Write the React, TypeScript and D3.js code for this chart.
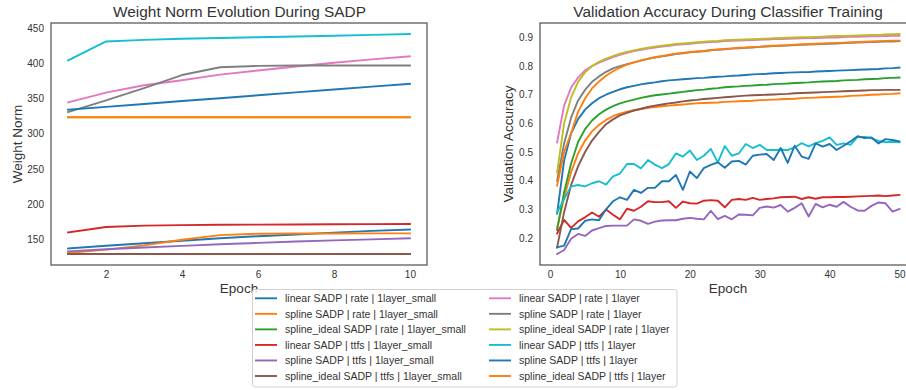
import { useEffect, useRef } from "react";
import * as d3 from "d3";

// epochs
const normEpochs = [1, 2, 3, 4, 5, 6, 7, 8, 9, 10];
const accEpochs = [
  1, 2, 3, 4, 5, 6, 7, 8, 9, 10, 11, 12, 13, 14, 15, 16, 17, 18, 19, 20,
  21, 22, 23, 24, 25, 26, 27, 28, 29, 30, 31, 32, 33, 34, 35, 36, 37, 38, 39, 40,
  41, 42, 43, 44, 45, 46, 47, 48, 49, 50,
];

const seriesNames = [
  "linear SADP | rate | 1layer_small",
  "spline SADP | rate | 1layer_small",
  "spline_ideal SADP | rate | 1layer_small",
  "linear SADP | ttfs | 1layer_small",
  "spline SADP | ttfs | 1layer_small",
  "spline_ideal SADP | ttfs | 1layer_small",
  "linear SADP | rate | 1layer",
  "spline SADP | rate | 1layer",
  "spline_ideal SADP | rate | 1layer",
  "linear SADP | ttfs | 1layer",
  "spline SADP | ttfs | 1layer",
  "spline_ideal SADP | ttfs | 1layer",
];

const seriesColors = [
  "#1f77b4", "#ff7f0e", "#2ca02c", "#d62728", "#9467bd", "#8c564b",
  "#e377c2", "#7f7f7f", "#bcbd22", "#17becf", "#1f77b4", "#ff7f0e",
];

// weight norm per epoch (left panel)
const normLinRateSmall = [137, 141, 144.5, 148, 151.5, 154.5, 157, 159.5, 162, 164];
const normSplRateSmall = [130.6, 135.4, 141.5, 149.5, 156, 158, 158.3, 158.4, 158.5, 158.5];
const normIdlRateSmall = [129.2, 129.2, 129.2, 129.2, 129.2, 129.2, 129.2, 129.2, 129.2, 129.2];
const normLinTtfsSmall = [160, 167.5, 169.5, 170.3, 170.7, 171, 171.2, 171.4, 171.6, 171.8];
const normSplTtfsSmall = [133, 136, 138.5, 140.8, 143, 145, 147, 148.5, 150, 151.5];
const normIdlTtfsSmall = [129.2, 129.2, 129.2, 129.2, 129.2, 129.2, 129.2, 129.2, 129.2, 129.2];
const normLinRate = [344.6, 358.5, 369, 376, 384, 390, 395.7, 401, 405.7, 410];
const normSplRate = [330.8, 347.4, 365, 383.5, 394.5, 396.5, 397, 397, 397, 397];
const normIdlRate = [323.5, 323.5, 323.5, 323.5, 323.5, 323.5, 323.5, 323.5, 323.5, 323.5];
const normLinTtfs = [404.3, 431.2, 433.5, 435, 436.2, 437.2, 438.3, 439.4, 440.5, 441.8];
const normSplTtfs = [334.2, 338.3, 342.4, 346.5, 350.6, 354.7, 358.8, 362.9, 367, 371.1];
const normIdlTtfs = [323.5, 323.5, 323.5, 323.5, 323.5, 323.5, 323.5, 323.5, 323.5, 323.5];

// validation accuracy per epoch (right panel)
const accLinRateSmall = [
  0.285, 0.47, 0.565, 0.615, 0.648, 0.67, 0.688, 0.7, 0.71, 0.719,
  0.726, 0.731, 0.736, 0.74, 0.743, 0.747, 0.75, 0.752, 0.754, 0.756,
  0.758, 0.759, 0.761, 0.763, 0.764, 0.766, 0.767, 0.769, 0.771, 0.772,
  0.773, 0.775, 0.776, 0.777, 0.778, 0.779, 0.779, 0.781, 0.782, 0.783,
  0.784, 0.785, 0.786, 0.787, 0.788, 0.789, 0.79, 0.792, 0.793, 0.795,
];
const accSplRateSmall = [
  0.235, 0.34, 0.43, 0.495, 0.54, 0.572, 0.595, 0.612, 0.625, 0.634,
  0.641, 0.646, 0.65, 0.654, 0.657, 0.66, 0.662, 0.664, 0.666, 0.668,
  0.67, 0.671, 0.672, 0.673, 0.675, 0.676, 0.677, 0.678, 0.679, 0.681,
  0.682, 0.683, 0.684, 0.685, 0.686, 0.688, 0.689, 0.69, 0.691, 0.692,
  0.693, 0.694, 0.696, 0.697, 0.698, 0.7, 0.701, 0.702, 0.703, 0.705,
];
const accIdlRateSmall = [
  0.228, 0.36, 0.46, 0.535, 0.58, 0.61, 0.632, 0.648, 0.66, 0.67,
  0.677, 0.683, 0.689, 0.694, 0.698, 0.701, 0.704, 0.707, 0.71, 0.713,
  0.716, 0.718, 0.721, 0.723, 0.726, 0.728, 0.729, 0.731, 0.732, 0.734,
  0.735, 0.737, 0.738, 0.739, 0.741, 0.742, 0.743, 0.745, 0.746, 0.747,
  0.748, 0.75, 0.751, 0.752, 0.754, 0.755, 0.756, 0.758, 0.759, 0.76,
];
const accLinTtfsSmall = [
  0.216, 0.263, 0.235, 0.258, 0.272, 0.289, 0.274, 0.299, 0.281, 0.265,
  0.302, 0.295, 0.309, 0.328, 0.325, 0.325, 0.328, 0.305, 0.327, 0.321,
  0.32, 0.33, 0.332, 0.33, 0.307, 0.333, 0.336, 0.333, 0.34, 0.333,
  0.336, 0.338, 0.342, 0.343, 0.344, 0.336, 0.342, 0.337, 0.342, 0.342,
  0.343, 0.343, 0.344, 0.345, 0.346, 0.347, 0.348, 0.346, 0.348, 0.35,
];
const accSplTtfsSmall = [
  0.144, 0.158, 0.197, 0.214, 0.207, 0.226, 0.234, 0.242, 0.243, 0.243,
  0.243, 0.265, 0.26, 0.249, 0.257, 0.261, 0.262, 0.262, 0.267, 0.27,
  0.267, 0.265, 0.295, 0.266, 0.277, 0.265, 0.282, 0.281, 0.279, 0.305,
  0.31, 0.306, 0.315, 0.292, 0.305, 0.321, 0.275, 0.319, 0.307, 0.316,
  0.309, 0.326, 0.309, 0.296, 0.295, 0.312, 0.324, 0.321, 0.292, 0.301,
];
const accIdlTtfsSmall = [
  0.167, 0.29, 0.385, 0.45, 0.5, 0.54, 0.57, 0.597, 0.614, 0.628,
  0.637, 0.645, 0.651, 0.657, 0.662, 0.666, 0.67, 0.673, 0.677, 0.68,
  0.682, 0.685, 0.687, 0.689, 0.691, 0.693, 0.695, 0.697, 0.698, 0.699,
  0.7, 0.701, 0.702, 0.703, 0.705, 0.706, 0.707, 0.708, 0.709, 0.71,
  0.711, 0.712, 0.713, 0.714, 0.715, 0.716, 0.716, 0.717, 0.717, 0.717,
];
const accLinRate = [
  0.534, 0.662, 0.725, 0.76, 0.785, 0.8, 0.812, 0.822, 0.831, 0.839,
  0.846, 0.852, 0.857, 0.861, 0.865, 0.868, 0.871, 0.874, 0.876, 0.878,
  0.88, 0.882, 0.884, 0.885, 0.887, 0.888, 0.889, 0.89, 0.891, 0.892,
  0.893, 0.894, 0.894, 0.895, 0.896, 0.897, 0.898, 0.898, 0.899, 0.9,
  0.9, 0.901, 0.902, 0.902, 0.903, 0.904, 0.904, 0.905, 0.906, 0.906,
];
const accSplRate = [
  0.4, 0.53, 0.62, 0.68, 0.717, 0.745, 0.764, 0.78, 0.792, 0.8,
  0.807, 0.813, 0.819, 0.825, 0.83, 0.834, 0.838, 0.842, 0.845, 0.848,
  0.85, 0.852, 0.855, 0.857, 0.859, 0.861, 0.862, 0.864, 0.865, 0.867,
  0.868, 0.87, 0.871, 0.872, 0.873, 0.874, 0.875, 0.876, 0.877, 0.878,
  0.879, 0.88, 0.881, 0.882, 0.883, 0.884, 0.885, 0.886, 0.886, 0.887,
];
const accIdlRate = [
  0.429, 0.6, 0.69, 0.745, 0.778, 0.8, 0.815, 0.826, 0.835, 0.843,
  0.849, 0.855, 0.86, 0.864, 0.868, 0.871, 0.874, 0.877, 0.879, 0.881,
  0.883, 0.885, 0.887, 0.888, 0.89, 0.891, 0.892, 0.893, 0.894, 0.895,
  0.896, 0.897, 0.898, 0.899, 0.9, 0.901, 0.901, 0.902, 0.903, 0.904,
  0.905, 0.905, 0.906, 0.907, 0.908, 0.909, 0.909, 0.91, 0.911, 0.912,
];
const accLinTtfs = [
  0.289, 0.336, 0.38, 0.385, 0.38, 0.391, 0.398, 0.386, 0.415, 0.425,
  0.458, 0.458, 0.443, 0.472, 0.456, 0.444, 0.458, 0.495, 0.484, 0.505,
  0.472, 0.487, 0.511, 0.464, 0.521, 0.487, 0.495, 0.528, 0.514, 0.525,
  0.507, 0.507, 0.508, 0.507, 0.516, 0.531, 0.52, 0.531, 0.539, 0.551,
  0.525, 0.53, 0.525, 0.553, 0.553, 0.548, 0.539, 0.534, 0.536, 0.534,
];
const accSplTtfs = [
  0.167, 0.173, 0.231, 0.233, 0.26, 0.265, 0.262, 0.3, 0.328, 0.342,
  0.333, 0.368, 0.357, 0.375, 0.375, 0.398, 0.398, 0.42, 0.368, 0.432,
  0.409, 0.444, 0.455, 0.464, 0.445, 0.467, 0.469, 0.456, 0.487, 0.491,
  0.493, 0.472, 0.514, 0.462, 0.522, 0.484, 0.476, 0.53, 0.519, 0.528,
  0.507, 0.522, 0.537, 0.555, 0.549, 0.551, 0.53, 0.545, 0.542, 0.537,
];
const accIdlTtfs = [
  0.383, 0.5, 0.565, 0.64, 0.687, 0.722, 0.746, 0.766, 0.782, 0.795,
  0.805, 0.813, 0.82, 0.826, 0.831, 0.835, 0.84, 0.843, 0.846, 0.849,
  0.851, 0.853, 0.856, 0.858, 0.86, 0.862, 0.864, 0.865, 0.867, 0.868,
  0.87, 0.871, 0.872, 0.873, 0.875, 0.876, 0.877, 0.878, 0.879, 0.88,
  0.881, 0.882, 0.883, 0.884, 0.885, 0.886, 0.887, 0.888, 0.889, 0.889,
];

const normSeries = [
  normLinRateSmall, normSplRateSmall, normIdlRateSmall,
  normLinTtfsSmall, normSplTtfsSmall, normIdlTtfsSmall,
  normLinRate, normSplRate, normIdlRate,
  normLinTtfs, normSplTtfs, normIdlTtfs,
];
const accSeries = [
  accLinRateSmall, accSplRateSmall, accIdlRateSmall,
  accLinTtfsSmall, accSplTtfsSmall, accIdlTtfsSmall,
  accLinRate, accSplRate, accIdlRate,
  accLinTtfs, accSplTtfs, accIdlTtfs,
];

const normXTicks = [2, 4, 6, 8, 10];
const normYTicks = [150, 200, 250, 300, 350, 400, 450];
const accXTicks = [0, 10, 20, 30, 40, 50];
const accYTicks = [0.2, 0.3, 0.4, 0.5, 0.6, 0.7, 0.8, 0.9];

const W = 906;
const H = 390;
const FONT = "'Liberation Sans', Arial, sans-serif";
const TXT = "#333333";

// matplotlib style 5% padding
function padded(lo: number, hi: number) {
  const m = (hi - lo) * 0.05;
  return [lo - m, hi + m];
}

function drawPanel(svg: any, opts: any) {
  const { x0, x1, y0, y1, epochs, series, xTicks, yTicks, yFmt, title, ylabel, ylabelX } = opts;
  const allVals = series.flat();
  const x = d3.scaleLinear(padded(d3.min(epochs) as number, d3.max(epochs) as number), [x0, x1]);
  const y = d3.scaleLinear(padded(d3.min(allVals) as number, d3.max(allVals) as number), [y1, y0]);

  const clipId = "clip" + Math.round(x0);
  svg.append("clipPath").attr("id", clipId)
    .append("rect").attr("x", x0).attr("y", y0).attr("width", x1 - x0).attr("height", y1 - y0);

  const line = d3.line<number>()
    .x((d, i) => x(epochs[i]))
    .y((d) => y(d));

  const g = svg.append("g").attr("clip-path", `url(#${clipId})`);
  series.forEach((s: number[], i: number) => {
    g.append("path")
      .attr("d", line(s))
      .attr("fill", "none")
      .attr("stroke", seriesColors[i])
      .attr("stroke-width", 1.9)
      .attr("stroke-linejoin", "round")
      .attr("stroke-linecap", "square");
  });

  // frame
  svg.append("rect")
    .attr("x", x0).attr("y", y0)
    .attr("width", x1 - x0).attr("height", y1 - y0)
    .attr("fill", "none").attr("stroke", "#555").attr("stroke-width", 1.25);

  const xAxis = svg.append("g")
    .attr("transform", `translate(0,${y1})`)
    .call(d3.axisBottom(x).tickValues(xTicks).tickSize(0).tickPadding(6));
  xAxis.select(".domain").remove();
  xAxis.selectAll("text").attr("font-size", 10).attr("font-family", FONT).attr("fill", TXT);

  const yAxis = svg.append("g")
    .attr("transform", `translate(${x0},0)`)
    .call(d3.axisLeft(y).tickValues(yTicks).tickSize(0).tickPadding(7).tickFormat(yFmt));
  yAxis.select(".domain").remove();
  yAxis.selectAll("text").attr("font-size", 10).attr("font-family", FONT).attr("fill", TXT);

  svg.append("text")
    .attr("x", opts.titleCx)
    .attr("y", 17)
    .attr("text-anchor", "middle")
    .attr("font-family", FONT).attr("font-size", 15.4).attr("fill", TXT)
    .text(title);

  svg.append("text")
    .attr("x", opts.labelCx)
    .attr("y", 293)
    .attr("text-anchor", "middle")
    .attr("font-family", FONT).attr("font-size", 13.5).attr("fill", TXT)
    .text("Epoch");

  svg.append("text")
    .attr("transform", `translate(${ylabelX},${(y0 + y1) / 2}) rotate(-90)`)
    .attr("text-anchor", "middle")
    .attr("font-family", FONT).attr("font-size", 13.5).attr("fill", TXT)
    .text(ylabel);
}

function Charts() {
  const ref = useRef<SVGSVGElement>(null);

  useEffect(() => {
    const svg = d3.select(ref.current);
    svg.selectAll("*").remove();

    drawPanel(svg, {
      x0: 51, x1: 427, y0: 23, y1: 265,
      epochs: normEpochs, series: normSeries,
      xTicks: normXTicks, yTicks: normYTicks, yFmt: d3.format("d"),
      title: "Weight Norm Evolution During SADP", titleCx: 239.5,
      ylabel: "Weight Norm", ylabelX: 22, labelCx: 239,
    });

    drawPanel(svg, {
      x0: 540, x1: 916.6, y0: 23, y1: 265,
      epochs: accEpochs, series: accSeries,
      xTicks: accXTicks, yTicks: accYTicks, yFmt: d3.format(".1f"),
      title: "Validation Accuracy During Classifier Training", titleCx: 728,
      ylabel: "Validation Accuracy", ylabelX: 513, labelCx: 728,
    });

    // legend, two columns of six
    const lg = svg.append("g");
    lg.append("rect")
      .attr("x", 252.5).attr("y", 289.5)
      .attr("width", 424.5).attr("height", 97.5)
      .attr("rx", 2.5)
      .attr("fill", "white").attr("fill-opacity", 0.85)
      .attr("stroke", "#d0d0d0").attr("stroke-width", 1);

    const rowY = d3.scaleLinear([0, 5], [298.3, 376]);
    const colX = [255, 489];
    seriesNames.forEach((name, i) => {
      const col = Math.floor(i / 6);
      const row = i % 6;
      const yy = rowY(row);
      lg.append("line")
        .attr("x1", colX[col]).attr("x2", colX[col] + 22)
        .attr("y1", yy).attr("y2", yy)
        .attr("stroke", seriesColors[i]).attr("stroke-width", 1.9);
      lg.append("text")
        .attr("x", colX[col] + 30).attr("y", yy)
        .attr("dy", "0.35em")
        .attr("font-family", FONT).attr("font-size", 10.5).attr("fill", TXT)
        .text(name);
    });
  }, []);

  return <svg ref={ref} width={W} height={H} style={{ display: "block", background: "white" }} />;
}

export default function App() {
  return (
    <div style={{ position: "absolute", left: 0, top: 0, width: W, height: H, overflow: "hidden", background: "white" }}>
      <Charts />
    </div>
  );
}
